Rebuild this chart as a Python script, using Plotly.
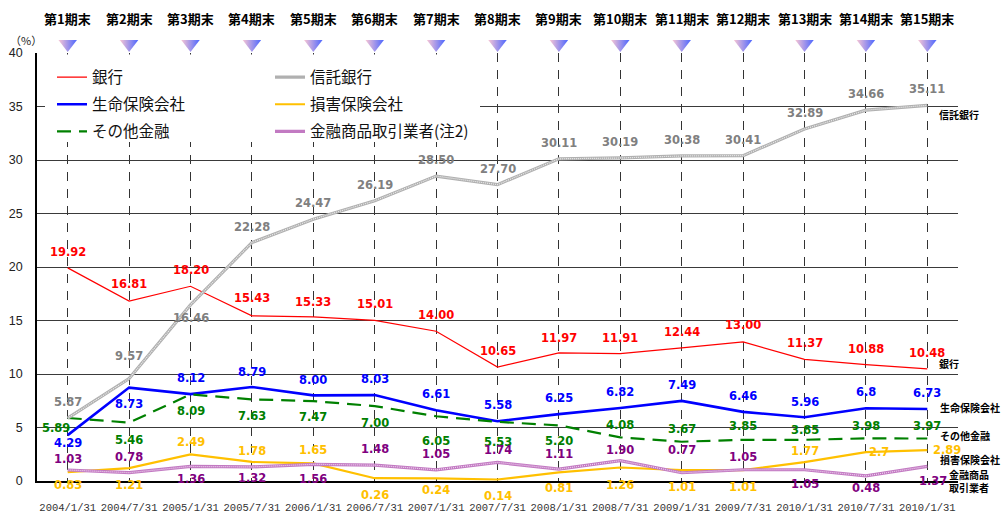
import plotly.graph_objects as go

# ---------------- data ----------------
dates = ["2004/1/31", "2004/7/31", "2005/1/31", "2005/7/31", "2006/1/31",
         "2006/7/31", "2007/1/31", "2007/7/31", "2008/1/31", "2008/7/31",
         "2009/1/31", "2009/7/31", "2010/1/31", "2010/7/31", "2010/1/31"]
periods = ["第1期末", "第2期末", "第3期末", "第4期末", "第5期末", "第6期末", "第7期末",
           "第8期末", "第9期末", "第10期末", "第11期末", "第12期末", "第13期末",
           "第14期末", "第15期末"]

bank = [19.92, 16.81, 18.20, 15.43, 15.33, 15.01, 14.00, 10.65, 11.97, 11.91,
        12.44, 13.00, 11.37, 10.88, 10.48]
trust = [5.87, 9.57, 16.46, 22.28, 24.47, 26.19, 28.50, 27.70, 30.11, 30.19,
         30.38, 30.41, 32.89, 34.66, 35.11]
life = [4.29, 8.73, 8.12, 8.79, 8.00, 8.03, 6.61, 5.58, 6.25, 6.82,
        7.49, 6.46, 5.96, 6.8, 6.73]
nonlife = [0.83, 1.21, 2.49, 1.78, 1.65, 0.26, 0.24, 0.14, 0.81, 1.26,
           1.01, 1.01, 1.77, 2.7, 2.89]
other = [5.89, 5.46, 8.09, 7.63, 7.47, 7.00, 6.05, 5.53, 5.20, 4.08,
         3.67, 3.85, 3.85, 3.98, 3.97]
brokers = [1.03, 0.78, 1.36, 1.32, 1.56, 1.48, 1.05, 1.74, 1.11, 1.90,
           0.77, 1.05, 1.05, 0.48, 1.37]

bank_txt = ["19.92", "16.81", "18.20", "15.43", "15.33", "15.01", "14.00", "10.65",
            "11.97", "11.91", "12.44", "13.00", "11.37", "10.88", "10.48"]
trust_txt = ["5.87", "9.57", "16.46", "22.28", "24.47", "26.19", "28.50", "27.70",
             "30.11", "30.19", "30.38", "30.41", "32.89", "34.66", "35.11"]
life_txt = ["4.29", "8.73", "8.12", "8.79", "8.00", "8.03", "6.61", "5.58",
            "6.25", "6.82", "7.49", "6.46", "5.96", "6.8", "6.73"]
nonlife_txt = ["0.83", "1.21", "2.49", "1.78", "1.65", "0.26", "0.24", "0.14",
               "0.81", "1.26", "1.01", "1.01", "1.77", "2.7", "2.89"]
other_txt = ["5.89", "5.46", "8.09", "7.63", "7.47", "7.00", "6.05", "5.53",
             "5.20", "4.08", "3.67", "3.85", "3.85", "3.98", "3.97"]
brokers_txt = ["1.03", "0.78", "1.36", "1.32", "1.56", "1.48", "1.05", "1.74",
               "1.11", "1.90", "0.77", "1.05", "1.05", "0.48", "1.37"]

# ---------------- label placement (pixels, +down / +right) ----------------
bank_dy = [-16, -17, -16, -18, -15, -16, -16, -16, -15, -16, -16, -17, -16, -16, -16]
trust_dy = [-16, -23, 13, -16, -16, -16, -16, -16, -16, -16, -16, -16, -16, -16, -16]
life_dy = [8, 16, -16, -15, -15, -16, -16, -16, -16, -16, -16, -16, -15, -16, -16]
other_dy = [10, 17, 17, 17, 16, 17, 25, 20, 16, -12, -13, -14, -10, -12, -13]
other_dx = [-12, 0, 0, 0, 0, 0, 0, 0, 0, 0, 0, 0, 0, 0, 0]
nonlife_dy = [13, 17, -12, -11, -13, 17, 12, 16, 16, 17, 17, 17, -11, 0, 0]
nonlife_dx = [0, 0, 0, 0, 0, 0, 0, 0, 0, 0, 0, 0, 0, 13, 20]
brokers_dy = [-11, -16, 13, 11, 15, -16, -16, -12, -15, -11, -23, -13, 14, 12, 15]
brokers_dx = [0, 0, 0, 0, 0, 0, 0, 0, 0, 0, 0, 0, 0, 0, 6]

RED = "#FF0000"
GREY = "#808080"
BLUE = "#0000FF"
YELLOW = "#FFC000"
GREEN = "#008000"
PURPLE = "#800080"

x = list(range(len(dates)))

# ---------------- geometry ----------------
W, H = 1003, 516
M_L, M_R, M_T, M_B = 37, 45, 28, 35
PLOT_TOP_PX = 53                      # top of the main value area
area_w = W - M_L - M_R
area_h = H - M_T - M_B
main_top = (H - M_B - PLOT_TOP_PX) / area_h
BAND_PX = PLOT_TOP_PX - M_T           # band above the plot for the triangles
TRI_LEVEL = 9                         # px above band bottom


def px_x(p):
    return (p - M_L) / area_w


def px_y(p):
    return (H - M_B - p) / area_h


fig = go.Figure()

fig.add_trace(go.Scatter(x=x, y=bank, mode="lines", name="銀行",
                         line=dict(color=RED, width=1.2),
                         legend="legend", legendgroup="a"))
fig.add_trace(go.Scatter(x=x, y=life, mode="lines", name="生命保険会社",
                         line=dict(color=BLUE, width=2.6),
                         legend="legend", legendgroup="b"))
fig.add_trace(go.Scatter(x=x, y=other, mode="lines", name="その他金融",
                         line=dict(color=GREEN, width=2.2, dash="14px,8px"),
                         legend="legend", legendgroup="c"))
fig.add_trace(go.Scatter(x=x, y=trust, mode="lines", name="信託銀行",
                         line=dict(color="#b0b0b0", width=3.2),
                         legend="legend2", legendgroup="d"))
fig.add_trace(go.Scatter(x=x, y=trust, mode="lines", showlegend=False,
                         line=dict(color="#eeeeee", width=1.2, dash="1px,1px"),
                         hoverinfo="skip"))
fig.add_trace(go.Scatter(x=x, y=nonlife, mode="lines", name="損害保険会社",
                         line=dict(color=YELLOW, width=2.2),
                         legend="legend2", legendgroup="e"))
fig.add_trace(go.Scatter(x=x, y=brokers, mode="lines", name="金融商品取引業者(注2)",
                         line=dict(color="#c27ac2", width=3.2),
                         legend="legend2", legendgroup="f"))
fig.add_trace(go.Scatter(x=x, y=brokers, mode="lines", showlegend=False,
                         line=dict(color="#f0d4f0", width=1.2, dash="1px,1px"),
                         hoverinfo="skip"))

# period triangles in the band above the plot
fig.add_trace(go.Scatter(x=x, y=[TRI_LEVEL] * len(x), mode="markers",
                         xaxis="x2", yaxis="y2",
                         showlegend=False, hoverinfo="skip",
                         marker=dict(symbol="triangle-down", size=16,
                                     color="#f8c6d4",
                                     gradient=dict(type="horizontal", color="#4c66ff"),
                                     line=dict(width=0))))

annotations = []
LABEL_FONT = "DejaVu Sans"


def add_labels(vals, txts, color, dys, dxs=None):
    for i, (v, t) in enumerate(zip(vals, txts)):
        annotations.append(dict(
            x=i, y=v, xref="x", yref="y", text=t, showarrow=False,
            xanchor="center", yanchor="middle",
            xshift=(dxs[i] if dxs else 0), yshift=-dys[i],
            font=dict(family=LABEL_FONT, size=11.5, color=color, weight="bold")))


add_labels(bank, bank_txt, RED, bank_dy)
add_labels(trust, trust_txt, GREY, trust_dy)
add_labels(life, life_txt, BLUE, life_dy)
add_labels(other, other_txt, GREEN, other_dy, other_dx)
add_labels(nonlife, nonlife_txt, YELLOW, nonlife_dy, nonlife_dx)
add_labels(brokers, brokers_txt, PURPLE, brokers_dy, brokers_dx)

# series names on the right
last = len(x) - 1
right_labels = [
    ("信託銀行", trust[last], 9, 10),
    ("銀行", bank[last], -5, 10),
    ("生命保険会社", life[last], -1, 11),
    ("その他金融", other[last], -3, 11),
    ("損害保険会社", nonlife[last], 9.5, 11),
    ("金融商品<br>取引業者", brokers[last], 14.5, 20),
]
for txt, v, dy, dx in right_labels:
    annotations.append(dict(
        x=last, y=v, xref="x", yref="y", text=txt, showarrow=False,
        xanchor="left", yanchor="middle", xshift=dx, yshift=-dy, align="left",
        font=dict(family="Noto Sans CJK JP", size=10, color="black", weight="bold")))

# period headers
for i, p in enumerate(periods):
    annotations.append(dict(
        x=i, y=px_y(18), xref="x", yref="paper", text=p, showarrow=False,
        xanchor="center", yanchor="middle",
        font=dict(family="Noto Sans CJK JP", size=13, color="black", weight="bold")))

# unit label
annotations.append(dict(
    x=px_x(26), y=px_y(40), xref="paper", yref="paper", text="（%）", showarrow=False,
    xanchor="center", yanchor="middle",
    font=dict(family="Noto Sans CJK JP", size=11, color="#222")))

legend_font = dict(family="Noto Sans CJK JP", size=15.5, color="#111")

fig.update_layout(
    width=W, height=H,
    margin=dict(l=M_L, r=M_R, t=M_T, b=M_B),
    paper_bgcolor="white", plot_bgcolor="rgba(0,0,0,0)",
    annotations=annotations,
    shapes=[dict(type="rect", xref="paper", yref="paper",
                 x0=px_x(45), x1=px_x(480), y0=px_y(142), y1=px_y(54.5),
                 fillcolor="white", line=dict(width=0), layer="above")],
    legend=dict(x=px_x(52), y=px_y(60.5), xanchor="left", yanchor="top",
                orientation="v", bgcolor="rgba(0,0,0,0)", tracegroupgap=4,
                font=legend_font),
    legend2=dict(x=px_x(270), y=px_y(60.5), xanchor="left", yanchor="top",
                 orientation="v", bgcolor="rgba(0,0,0,0)", tracegroupgap=4,
                 font=legend_font),
    showlegend=True,
    hovermode=False,
    xaxis=dict(
        domain=[0, 1],
        range=[-0.5, len(x) - 0.5], tickmode="array", tickvals=x, ticktext=dates,
        showgrid=True, gridcolor="#333333", gridwidth=1, griddash="9px,8px",
        showline=True, linecolor="black", linewidth=1.5, zeroline=False,
        ticks="", ticklabelstandoff=16, tickangle=0, automargin=False,
        tickfont=dict(family="Liberation Mono", size=10.5, color="#333"),
        anchor="y",
    ),
    yaxis=dict(
        domain=[0, main_top], range=[0, 40], dtick=5, tick0=0,
        showgrid=True, gridcolor="#3a3a3a", gridwidth=1,
        showline=True, linecolor="black", linewidth=1.5, zeroline=False,
        ticks="", ticklabelstandoff=10, automargin=False,
        tickfont=dict(family="Liberation Sans", size=12.5, color="#222"),
        anchor="x",
    ),
    xaxis2=dict(domain=[0, 1], range=[-0.5, len(x) - 0.5], visible=False,
                showgrid=False, anchor="y2"),
    yaxis2=dict(domain=[main_top, 1], range=[0, BAND_PX], visible=False,
                showgrid=False, anchor="x2"),
)

fig.write_html("out.html",
               config={"displayModeBar": False},
               post_script="document.body.style.margin='0px';"
                           "document.body.style.overflow='hidden';")
